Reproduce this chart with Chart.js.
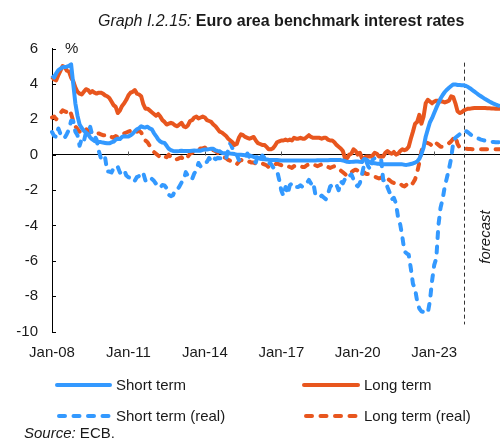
<!DOCTYPE html>
<html>
<head>
<meta charset="utf-8">
<script src="https://cdn.jsdelivr.net/npm/chart.js@4/dist/chart.umd.min.js"></script>
<style>
  body { margin: 0; background: #fff; }
  #wrap { position: relative; width: 500px; height: 439px; font-family: 'Liberation Sans', Arial, sans-serif; color: #1a1a1a; overflow: hidden; }
  #wrap div { position: absolute; white-space: nowrap; }
  .t15 { font-size: 15px; line-height: 18px; }
</style>
</head>
<body>
<div id="wrap">
  <canvas id="chart" width="500" height="380" style="position:absolute;left:0;top:0"></canvas>
  <div style="left:98px;top:11px;font-size:16px;line-height:20px"><i>Graph I.2.15:</i> <b>Euro area benchmark interest rates</b></div>
  <div class="t15" style="left:65px;top:39px">%</div>
  <div class="t15" style="left:485px;top:237px;font-style:italic;transform:translate(-50%,-50%) rotate(-90deg)">forecast</div>
  <svg width="500" height="439" style="position:absolute;left:0;top:0">
    <line x1="57" y1="385" x2="110" y2="385" stroke="#3399ff" stroke-width="4" stroke-linecap="round"/>
    <line x1="304" y1="385" x2="358" y2="385" stroke="#e8561e" stroke-width="4" stroke-linecap="round"/>
    <line x1="59" y1="416" x2="110" y2="416" stroke="#3399ff" stroke-width="4" stroke-linecap="round" stroke-dasharray="6 8.5"/>
    <line x1="306" y1="416" x2="358" y2="416" stroke="#e8561e" stroke-width="4" stroke-linecap="round" stroke-dasharray="6 8.5"/>
  </svg>
  <div class="t15" style="left:116px;top:376px">Short term</div>
  <div class="t15" style="left:364px;top:376px">Long term</div>
  <div class="t15" style="left:116px;top:407px">Short term (real)</div>
  <div class="t15" style="left:364px;top:407px">Long term (real)</div>
  <div class="t15" style="left:24px;top:424px"><i>Source:</i> ECB.</div>
</div>
<script>
// monthly labels Jan-08 .. Aug-25
const monthNames = ['Jan','Feb','Mar','Apr','May','Jun','Jul','Aug','Sep','Oct','Nov','Dec'];
const months = [];
for (let yr = 8; yr <= 25; yr++) {
  for (let k = 0; k < 12; k++) {
    if (yr === 25 && k > 7) break;
    months.push(monthNames[k] + '-' + String(yr).padStart(2, '0'));
  }
}

const xTickLabels = ['Jan-08', 'Jan-11', 'Jan-14', 'Jan-17', 'Jan-20', 'Jan-23'];
const yTickValues = [6, 4, 2, 0, -2, -4, -6, -8, -10];
const forecastStart = 'Mar-24';

const shortTerm = [
  4.48, 4.36, 4.60, 4.78, 4.86, 4.94, 4.96, 4.97, 5.02, 5.11, 4.00, 2.90,
  2.20, 1.70, 1.50, 1.35, 1.25, 1.15, 0.97, 0.86, 0.77, 0.74, 0.72, 0.71,
  0.68, 0.66, 0.64, 0.64, 0.69, 0.73, 0.85, 0.90, 0.88, 1.00, 1.04, 1.02,
  1.02, 1.09, 1.18, 1.32, 1.43, 1.49, 1.60, 1.55, 1.54, 1.58, 1.48, 1.43,
  1.22, 1.05, 0.86, 0.74, 0.68, 0.66, 0.50, 0.33, 0.25, 0.21, 0.19, 0.19,
  0.20, 0.22, 0.21, 0.21, 0.20, 0.21, 0.22, 0.23, 0.22, 0.23, 0.22, 0.27,
  0.29, 0.29, 0.31, 0.33, 0.33, 0.24, 0.21, 0.19, 0.10, 0.08, 0.08, 0.08,
  0.06, 0.05, 0.03, 0.00, -0.01, -0.01, -0.02, -0.03, -0.04, -0.05, -0.09, -0.13,
  -0.15, -0.18, -0.23, -0.25, -0.26, -0.27, -0.29, -0.30, -0.30, -0.31, -0.31, -0.32,
  -0.33, -0.33, -0.33, -0.33, -0.33, -0.33, -0.33, -0.33, -0.33, -0.33, -0.33, -0.33,
  -0.33, -0.33, -0.33, -0.33, -0.33, -0.32, -0.32, -0.32, -0.32, -0.32, -0.32, -0.31,
  -0.31, -0.31, -0.31, -0.31, -0.31, -0.33, -0.37, -0.41, -0.42, -0.41, -0.40, -0.39,
  -0.39, -0.41, -0.42, -0.25, -0.27, -0.38, -0.44, -0.48, -0.49, -0.51, -0.52, -0.54,
  -0.55, -0.54, -0.54, -0.54, -0.54, -0.54, -0.55, -0.55, -0.55, -0.55, -0.57, -0.58,
  -0.56, -0.53, -0.50, -0.45, -0.39, -0.24, 0.04, 0.40, 1.01, 1.43, 1.83, 2.06,
  2.35, 2.64, 2.91, 3.17, 3.37, 3.54, 3.67, 3.78, 3.88, 3.97, 3.97, 3.94,
  3.93, 3.92, 3.92, 3.88, 3.82, 3.74, 3.65, 3.56, 3.47, 3.38, 3.30, 3.22,
  3.14, 3.07, 3.00, 2.94, 2.88, 2.83, 2.78, 2.74
];

const longTerm = [
  4.40, 4.25, 4.20, 4.50, 4.75, 5.00, 4.95, 4.75, 4.70, 4.35, 4.15, 3.80,
  3.55, 3.45, 3.40, 3.55, 3.70, 3.65, 3.50, 3.60, 3.50, 3.45, 3.50, 3.50,
  3.45, 3.35, 3.30, 3.20, 3.00, 2.80, 2.70, 2.35, 2.50, 2.75, 2.90, 3.10,
  3.35, 3.50, 3.55, 3.65, 3.45, 3.40, 3.30, 2.85, 2.60, 2.60, 2.50, 2.40,
  2.30, 2.20, 2.30, 2.15, 1.95, 1.85, 1.70, 1.75, 1.80, 1.75, 1.65, 1.60,
  1.70, 1.80, 1.60, 1.55, 1.65, 1.90, 1.95, 2.10, 2.15, 2.05, 2.10, 2.15,
  2.10, 1.95, 1.90, 1.85, 1.70, 1.60, 1.45, 1.30, 1.25, 1.15, 1.05, 0.90,
  0.80, 0.70, 0.55, 0.60, 0.95, 1.15, 1.10, 1.00, 0.95, 0.90, 0.95, 1.00,
  0.80, 0.65, 0.60, 0.55, 0.55, 0.45, 0.30, 0.30, 0.35, 0.50, 0.70, 0.75,
  0.80, 0.80, 0.85, 0.80, 0.85, 0.80, 0.95, 0.90, 0.90, 0.95, 0.90, 0.90,
  1.00, 1.10, 1.00, 0.95, 0.95, 0.95, 0.95, 0.90, 0.95, 0.95, 0.85, 0.80,
  0.80, 0.70, 0.55, 0.45, 0.35, 0.20, -0.20, -0.20, 0.00, 0.05, 0.30, 0.20,
  0.00, 0.10, -0.20, -0.20, -0.10, -0.10, -0.10, -0.05, 0.10, 0.05, -0.10, -0.10,
  -0.10, 0.10, 0.20, 0.10, 0.05, 0.15, 0.00, 0.05, 0.20, 0.30, 0.25, 0.30,
  0.45, 0.90, 1.30, 1.75, 1.85, 2.25, 1.75, 2.15, 2.90, 3.10, 3.00, 2.90,
  3.00, 3.05, 3.05, 3.00, 3.00, 2.95, 3.00, 3.05, 3.30, 3.25, 2.90, 2.45,
  2.35, 2.40, 2.50, 2.55, 2.60, 2.60, 2.62, 2.63, 2.64, 2.64, 2.64, 2.63,
  2.63, 2.62, 2.62, 2.61, 2.61, 2.60, 2.60, 2.60
];

const shortReal = [
  1.28, 1.06, 1.00, 1.48, 1.16, 0.94, 0.96, 1.17, 1.42, 1.91, 1.90, 1.30,
  1.10, 0.50, 0.90, 0.75, 1.25, 1.25, 1.57, 1.06, 1.07, 0.84, 0.22, -0.19,
  -0.32, -0.14, -0.96, -0.96, -1.01, -0.77, -0.85, -0.70, -1.02, -1.00, -0.86, -1.18,
  -1.28, -1.31, -1.52, -1.48, -1.27, -1.21, -1.00, -1.05, -1.46, -1.42, -1.52, -1.37,
  -1.48, -1.65, -1.84, -1.86, -1.72, -1.74, -1.90, -2.27, -2.35, -2.29, -2.01, -2.01,
  -1.80, -1.58, -1.49, -0.99, -1.20, -1.39, -1.38, -1.07, -0.88, -0.47, -0.68, -0.53,
  -0.41, -0.41, -0.19, -0.37, -0.17, -0.26, -0.19, -0.21, -0.20, -0.32, -0.22, 0.28,
  0.66, 0.35, 0.13, 0.00, -0.31, -0.21, -0.22, -0.13, 0.06, -0.15, -0.19, -0.33,
  -0.45, 0.02, -0.23, -0.05, -0.16, -0.37, -0.49, -0.50, -0.70, -0.81, -0.91, -1.42,
  -2.03, -2.33, -1.83, -2.23, -1.73, -1.63, -1.63, -1.83, -1.83, -1.73, -1.83, -1.73,
  -1.63, -1.43, -1.63, -1.53, -2.23, -2.32, -2.42, -2.32, -2.42, -2.52, -2.22, -1.81,
  -1.71, -1.81, -1.71, -2.01, -1.51, -1.63, -1.37, -1.41, -1.22, -1.11, -1.40, -1.69,
  -1.79, -1.61, -1.12, -0.55, -0.37, -0.68, -0.84, -0.28, -0.19, -0.21, -0.22, -0.24,
  -1.45, -1.44, -1.84, -2.14, -2.54, -2.44, -2.75, -3.55, -3.95, -4.65, -5.47, -5.58,
  -5.66, -6.43, -7.30, -7.60, -8.30, -8.70, -8.86, -8.90, -8.89, -8.95, -8.27, -7.14,
  -6.25, -5.86, -3.99, -3.00, -2.50, -1.80, -1.30, -0.80, -0.20, 0.70, 0.95, 1.05,
  1.15, 1.25, 1.37, 1.33, 1.25, 1.15, 1.07, 1.00, 0.94, 0.90, 0.85, 0.82,
  0.79, 0.76, 0.74, 0.72, 0.71, 0.70, 0.70, 0.70
];

const longReal = [
  2.10, 2.15, 2.00, 2.20, 2.35, 2.50, 2.45, 2.40, 2.55, 2.30, 1.90, 1.60,
  1.45, 1.30, 1.35, 1.30, 1.45, 1.35, 1.25, 1.30, 1.20, 1.15, 1.20, 1.15,
  1.10, 1.10, 1.05, 1.10, 1.00, 0.95, 1.05, 1.00, 1.10, 1.15, 1.20, 1.25,
  1.30, 1.35, 1.30, 1.40, 1.30, 1.35, 1.25, 1.00, 0.80, 0.70, 0.50, 0.35,
  0.15, 0.05, -0.05, -0.15, -0.20, -0.10, -0.15, 0.00, -0.15, -0.25, -0.30, -0.25,
  -0.20, -0.15, -0.30, -0.25, -0.10, 0.05, 0.10, 0.20, 0.30, 0.30, 0.35, 0.35,
  0.40, 0.30, 0.30, 0.35, 0.25, 0.20, 0.10, 0.00, -0.05, -0.15, -0.20, -0.30,
  -0.35, -0.45, -0.50, -0.55, -0.40, -0.30, -0.35, -0.40, -0.45, -0.40, -0.45, -0.45,
  -0.50, -0.55, -0.55, -0.50, -0.55, -0.60, -0.70, -0.70, -0.65, -0.55, -0.50, -0.55,
  -0.60, -0.55, -0.60, -0.65, -0.70, -0.75, -0.65, -0.70, -0.70, -0.65, -0.70, -0.70,
  -0.60, -0.55, -0.60, -0.55, -0.60, -0.65, -0.60, -0.55, -0.55, -0.60, -0.70, -0.75,
  -0.70, -0.65, -0.75, -0.80, -0.90, -1.00, -1.10, -1.20, -1.15, -1.00, -0.90, -0.85,
  -0.90, -1.00, -1.15, -1.00, -1.10, -1.10, -1.15, -1.20, -1.25, -1.30, -1.35, -1.30,
  -1.35, -1.30, -1.35, -1.45, -1.55, -1.60, -1.65, -1.70, -1.65, -1.75, -1.80, -1.70,
  -1.75, -1.80, -1.60, -1.40, -1.00, -0.45, 0.20, 0.55, 0.70, 0.65, 0.60, 0.50,
  0.70, 0.65, 0.55, 0.45, 0.45, 0.50, 0.55, 0.65, 0.75, 0.90, 1.05, 0.60,
  0.40, 0.35, 0.35, 0.33, 0.32, 0.32, 0.31, 0.31, 0.30, 0.30, 0.30, 0.30,
  0.30, 0.30, 0.30, 0.30, 0.30, 0.30, 0.30, 0.30
];

const BLUE = '#3399ff';
const ORANGE = '#e8561e';
const TEXT = '#1a1a1a';
const FONT = "'Liberation Sans', Arial, sans-serif";

// zero line ticks, inward y ticks and the forecast divider
const extras = {
  id: 'extras',
  beforeDatasetsDraw(chart) {
    const { ctx, chartArea, scales: { x, y } } = chart;
    ctx.save();
    ctx.lineWidth = 1;
    const y0 = Math.round(y.getPixelForValue(0)) + 0.5;
    ctx.strokeStyle = '#555';
    months.forEach((m, i) => {
      if (i > 0 && xTickLabels.includes(m)) {
        const px = Math.round(x.getPixelForValue(i)) + 0.5;
        ctx.beginPath();
        ctx.moveTo(px, y0);
        ctx.lineTo(px, y0 - 4);
        ctx.stroke();
      }
    });
    ctx.strokeStyle = '#000';
    yTickValues.forEach(v => {
      const py = Math.round(y.getPixelForValue(v)) + 0.5;
      ctx.beginPath();
      ctx.moveTo(chartArea.left, py);
      ctx.lineTo(chartArea.left + 4, py);
      ctx.stroke();
    });
    const fx = Math.round(x.getPixelForValue(months.indexOf(forecastStart))) + 0.5;
    ctx.strokeStyle = '#333';
    ctx.setLineDash([4, 3]);
    ctx.beginPath();
    ctx.moveTo(fx, y.getPixelForValue(5.2));
    ctx.lineTo(fx, y.getPixelForValue(-9.6));
    ctx.stroke();
    ctx.restore();
  }
};

const line = (label, data, color, dashed, order) => ({
  label: label,
  data: data,
  borderColor: color,
  backgroundColor: color,
  borderWidth: 4,
  borderDash: dashed ? [6, 8.5] : [],
  borderCapStyle: dashed ? 'round' : 'butt',
  borderJoinStyle: 'round',
  pointRadius: 0,
  tension: 0,
  fill: false,
  order: order
});

new Chart(document.getElementById('chart'), {
  type: 'line',
  data: {
    labels: months,
    datasets: [
      line('Short term', shortTerm, BLUE, false, 0),
      line('Long term', longTerm, ORANGE, false, 1),
      line('Short term (real)', shortReal, BLUE, true, 2),
      line('Long term (real)', longReal, ORANGE, true, 3)
    ]
  },
  options: {
    responsive: false,
    animation: false,
    layout: { padding: { top: 48.5, right: 0, bottom: 8.5, left: 0 } },
    plugins: { legend: { display: false }, tooltip: { enabled: false } },
    scales: {
      x: {
        afterFit: scale => { scale.height = 40; },
        grid: { display: false, drawTicks: false },
        border: { display: false },
        ticks: {
          autoSkip: false,
          maxRotation: 0,
          minRotation: 0,
          padding: 12,
          color: TEXT,
          font: { family: FONT, size: 15 },
          callback: (val, i) => xTickLabels.includes(months[i]) ? months[i] : null
        }
      },
      y: {
        min: -10,
        max: 6,
        afterBuildTicks: scale => { scale.ticks = yTickValues.map(v => ({ value: v })); },
        afterFit: scale => { scale.width = 52; },
        border: { display: true, color: '#000', width: 1 },
        grid: {
          drawTicks: false,
          color: c => (c.tick && c.tick.value === 0) ? '#000' : 'rgba(0,0,0,0)',
          lineWidth: 1
        },
        ticks: {
          padding: 14,
          color: TEXT,
          font: { family: FONT, size: 15 }
        }
      }
    }
  },
  plugins: [extras]
});
</script>
</body>
</html>
